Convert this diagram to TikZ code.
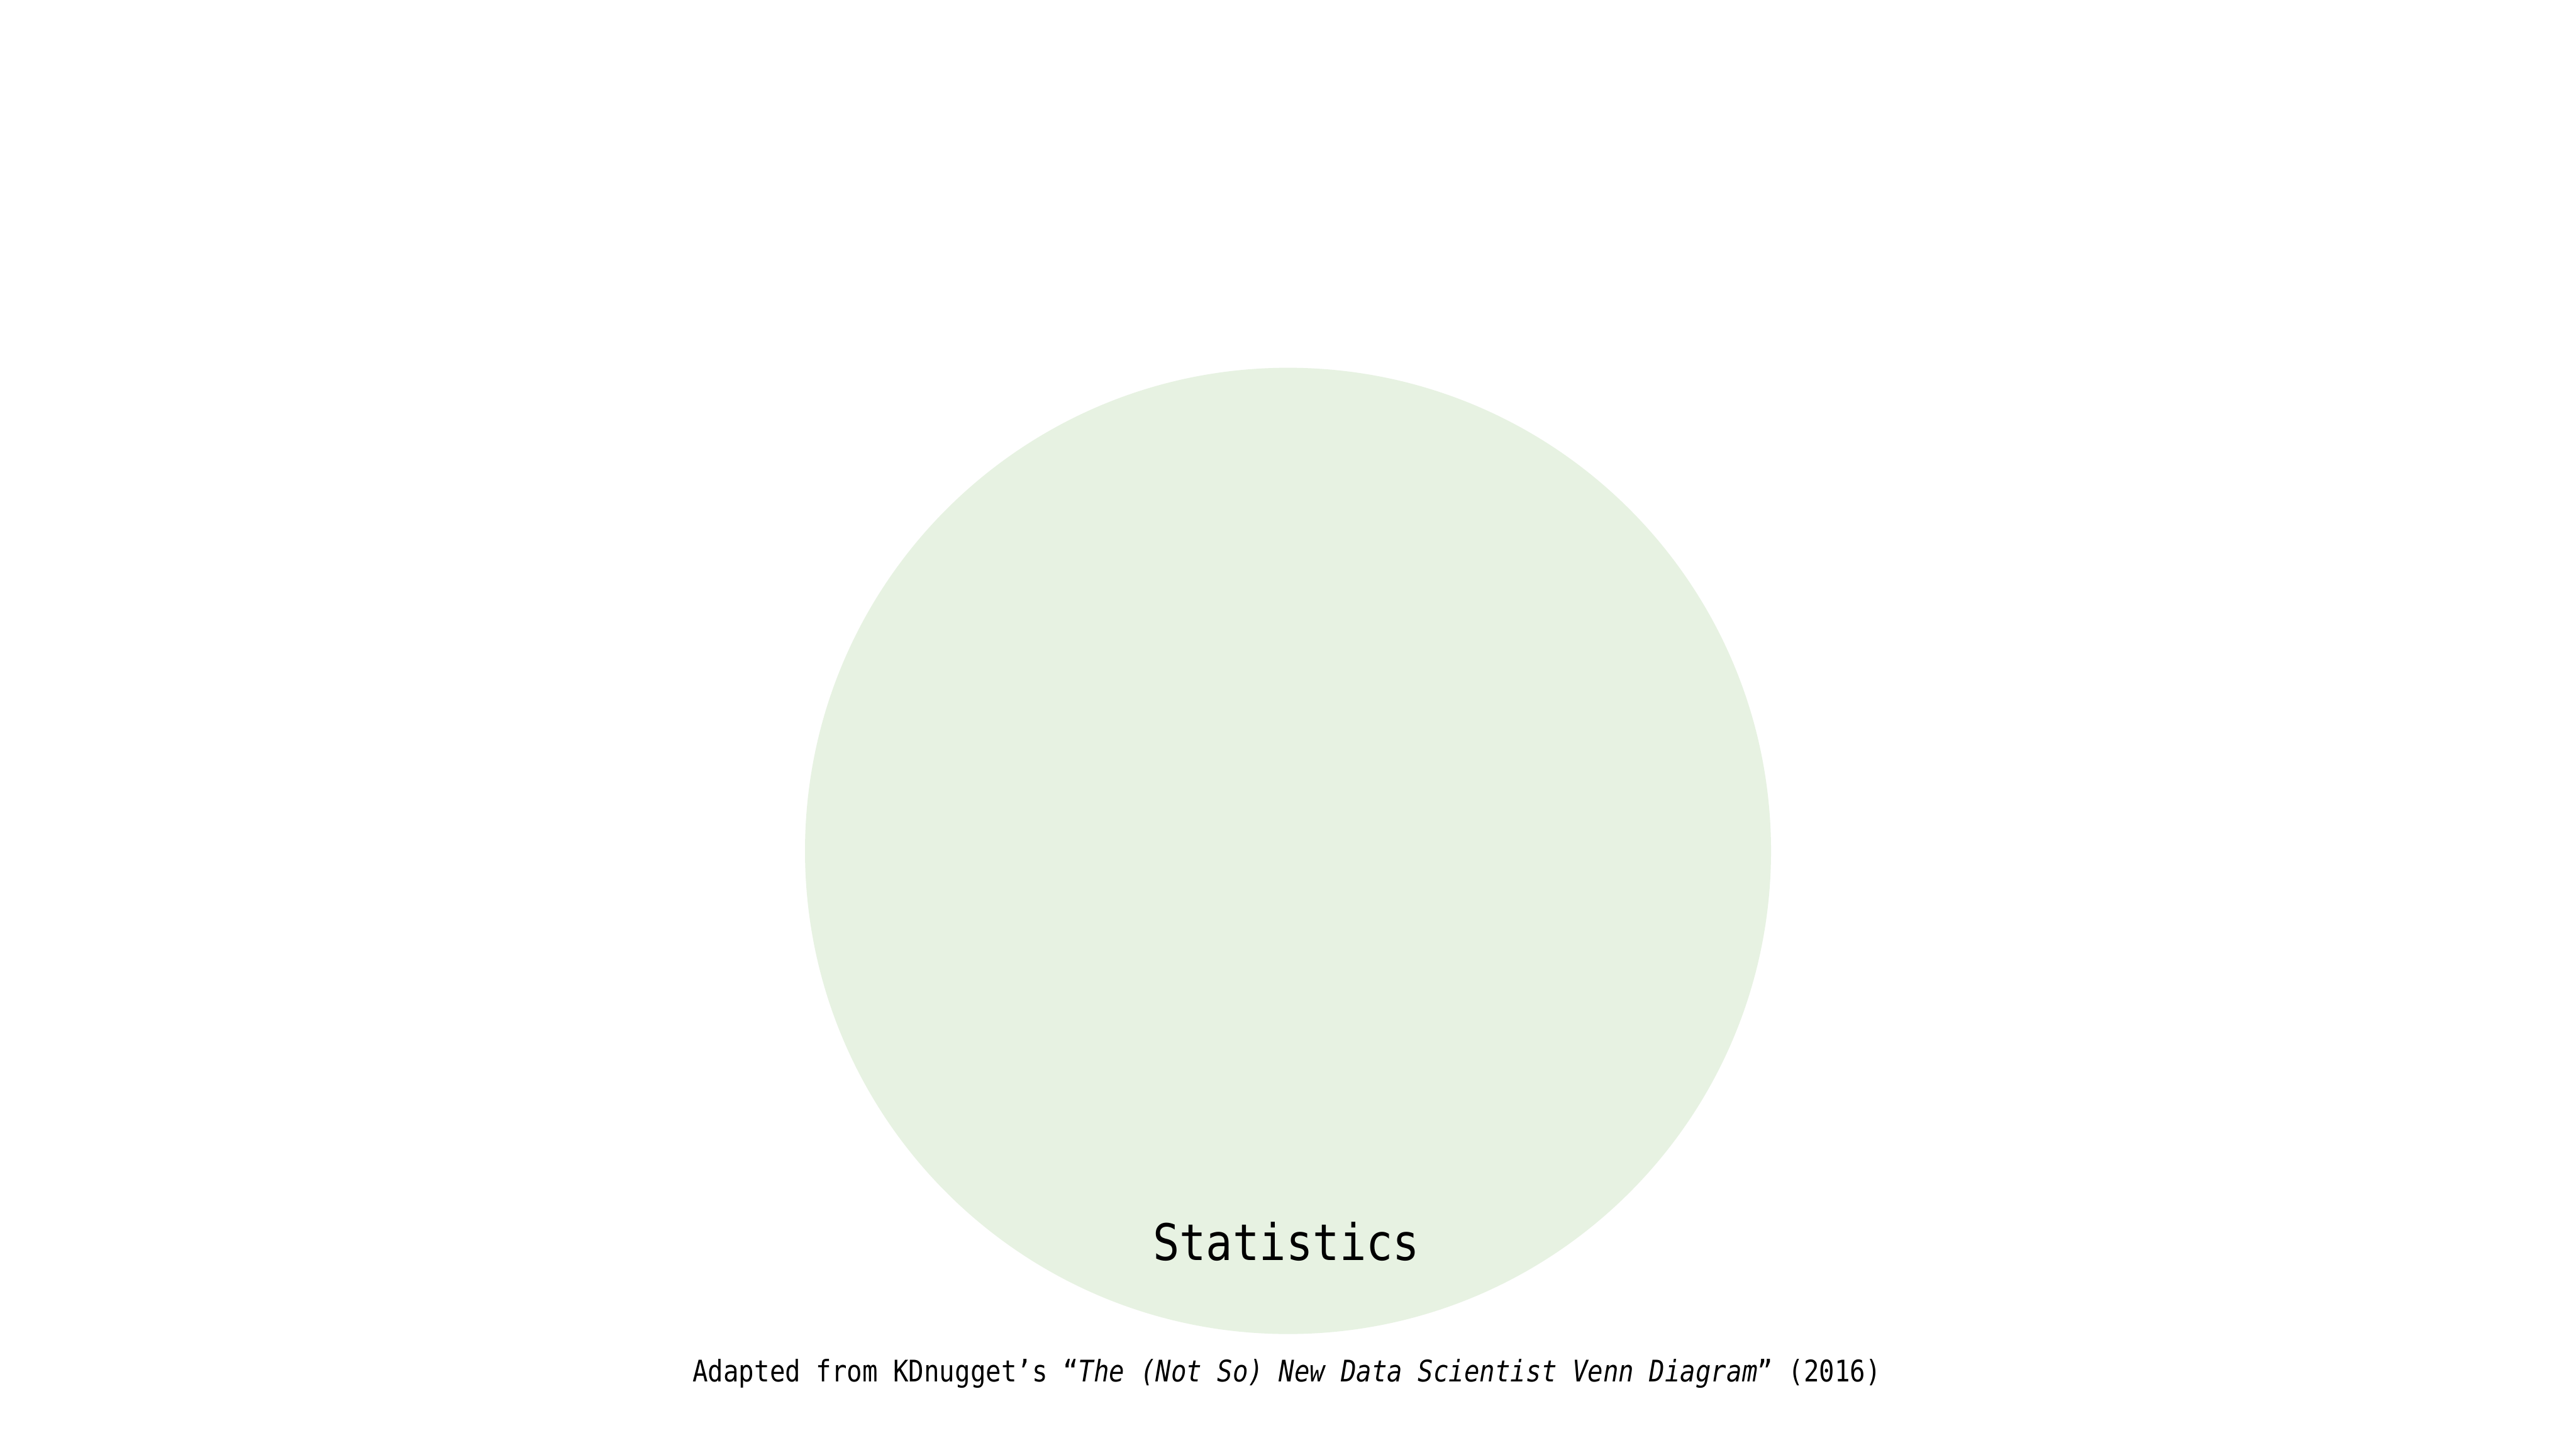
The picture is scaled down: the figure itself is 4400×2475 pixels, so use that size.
\documentclass[tikz,border=0pt]{standalone}
\usepackage{fontspec}
\setmonofont{DejaVu Sans Mono}
\definecolor{statfill}{RGB}{231,242,226}
\tikzset{
  label text/.style={anchor=base, inner sep=0pt, font=\ttfamily, text=black},
}
\begin{document}
\begin{tikzpicture}[x=0.1pt,y=-0.1pt]
  \useasboundingbox (0,0) rectangle (4400,2475);
  \fill[white] (0,0) rectangle (4400,2475);
  \fill[statfill] (2200,1453) circle[radius=825];
  \node[label text, font=\ttfamily\fontsize{8.6pt}{10pt}\selectfont] (stat) at (2197,2152)
    {\scalebox{0.88}[1]{Statistics}};
  \node[label text, font=\ttfamily\fontsize{5.08pt}{6pt}\selectfont] (caption) at (2198,2359)
    {\scalebox{0.862}[1]{Adapted from KDnugget’s “\textit{The (Not So) New Data Scientist Venn Diagram}” (2016)}};
\end{tikzpicture}
\end{document}
